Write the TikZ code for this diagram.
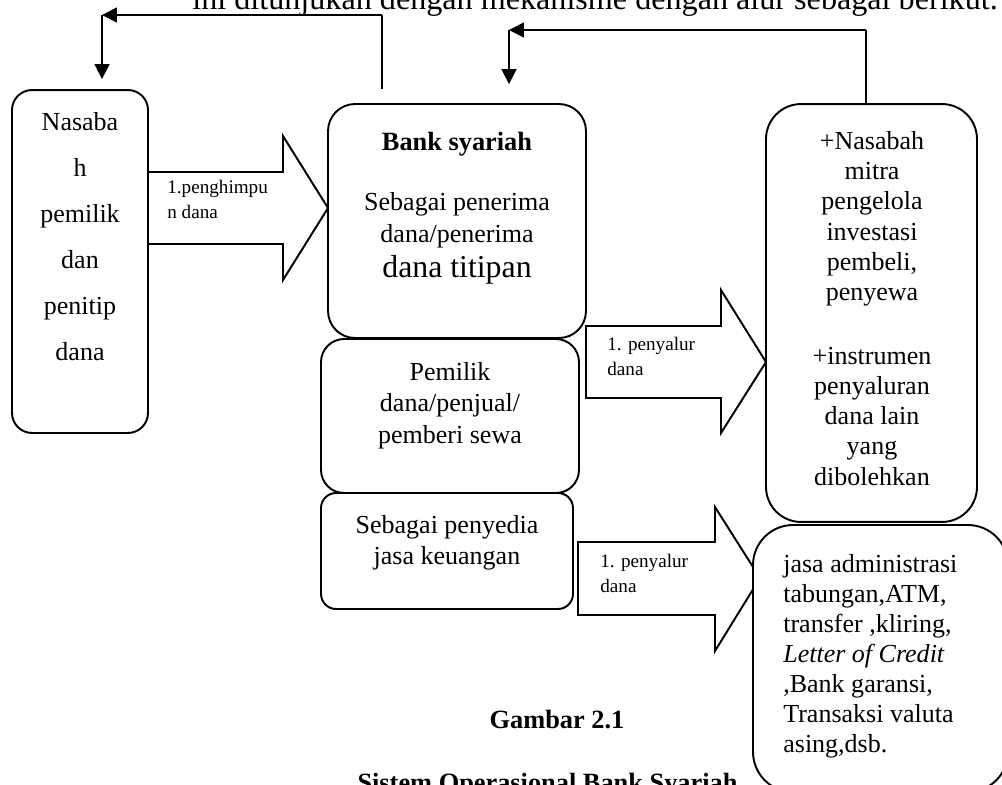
\documentclass[tikz,border=0pt]{standalone}
\usepackage{fontspec}
\setmainfont{Liberation Serif}
\usetikzlibrary{arrows.meta}

\tikzset{
  blok/.style={draw, line width=1.1pt, fill=white, inner sep=0pt, rounded corners=#1},
  blok/.default=0.4cm,
  panah/.style={draw, line width=1.1pt, fill=white},
  alur/.style={line width=1pt, -{Triangle[length=0.3cm,width=0.3cm]}},
  isi/.style={font=\fontsize{14.8}{17.2}\selectfont, align=center, inner sep=0pt, anchor=base},
  kecil/.style={font=\fontsize{10.9}{14.2}\selectfont, align=left, inner sep=0pt, anchor=base west},
  tebal/.style={font=\bfseries\fontsize{15}{18}\selectfont, inner sep=0pt, anchor=base},
}

\begin{document}
\begin{tikzpicture}[x=0.02cm, y=-0.02cm]
			\useasboundingbox (0,0) rectangle (1002,785);
			
			%%%%% kalimat atas (terpotong) %%%%%
			\node[font=\fontsize{18.3}{20}\selectfont, anchor=base west, inner sep=0pt] (kalimat) at (192,9) {ini ditunjukan dengan mekanisme dengan alur sebagai berikut.};
			
			%%%%% panah blok %%%%%
			\draw[panah] (148,172) -- (283,172) -- (283,136) -- (328,208) -- (283,280) -- (283,244) -- (148,244) -- cycle;
			\draw[panah] (586,326) -- (721,326) -- (721,290) -- (766,362) -- (721,433) -- (721,398) -- (586,398) -- cycle;
			\draw[panah] (578,542) -- (715,542) -- (715,507) -- (760,578) -- (715,651) -- (715,615) -- (578,615) -- cycle;
			
			%%%%% kotak %%%%%
			\node[blok=0.4cm, minimum width=2.72cm, minimum height=6.86cm] (nasabah) at (80,261.5) {};
			\node[blok=0.54cm, minimum width=5.16cm, minimum height=4.68cm] (bank) at (457,221) {};
			\node[blok=0.46cm, minimum width=5.16cm, minimum height=3.08cm] (pemilik) at (450,416) {};
			\node[blok=0.3cm, minimum width=5.04cm, minimum height=2.32cm] (penyedia) at (447,551) {};
			\node[blok=0.7cm, minimum width=4.22cm, minimum height=8.36cm] (mitra) at (871.5,313) {};
			\node[blok=0.8cm, minimum width=5.1cm, minimum height=5.34cm] (jasa) at (880.5,658.5) {};
			
			%%%%% teks dalam kotak (base = baris terakhir) %%%%%
			\node[isi, font=\fontsize{14.8}{26.1}\selectfont] (teksNasabah) at (80,360) {Nasaba\\h\\pemilik\\dan\\penitip\\dana};
			\node[tebal] (judulBank) at (457,150) {Bank syariah};
			\node[isi, font=\fontsize{14.8}{18}\selectfont] (teksBank) at (457,242) {Sebagai penerima\\dana/penerima};
			\node[isi, font=\fontsize{18.1}{20}\selectfont] (titipan) at (457,277) {dana titipan};
			\node[isi, font=\fontsize{14.8}{17.9}\selectfont] (teksPemilik) at (450,443) {Pemilik\\dana/penjual/\\pemberi sewa};
			\node[isi, font=\fontsize{14.8}{17.6}\selectfont] (teksPenyedia) at (447,564) {Sebagai penyedia\\jasa keuangan};
			\node[isi] (teksMitra) at (872,485) {+Nasabah\\mitra\\pengelola\\investasi\\pembeli,\\penyewa\\[19pt]+instrumen\\penyaluran\\dana lain\\yang\\dibolehkan};
			\node[isi, font=\fontsize{14.8}{17}\selectfont, align=left, anchor=base west] (teksJasa) at (783,752) {jasa administrasi\\tabungan,ATM,\\transfer ,kliring,\\\textit{Letter of Credit}\\,Bank garansi,\\Transaksi valuta\\asing,dsb.};
			
			%%%%% label panah %%%%%
			\node[kecil] (lblHimpun) at (167,218) {1.penghimpu\\n dana};
			\node[kecil] (lblSalur) at (607,375) {1. penyalur\\dana};
			\node[kecil] (lblJasa) at (600,592) {1. penyalur\\dana};
			
			%%%%% alur balik %%%%%
			\coordinate (belok1) at (382,15);
			\coordinate (belok2) at (102,15);
			\draw[line width=1pt, shorten <=0.28cm] (belok1 |- bank.north) -- (belok1);
			\draw[alur] (belok1) -- (belok2);
			\draw[alur, shorten >=0.2cm] (belok2) -- (belok2 |- nasabah.north);
			
			\coordinate (belok3) at (866,30);
			\coordinate (belok4) at (509,30);
			\draw[line width=1pt] (belok3 |- mitra.north) -- (belok3);
			\draw[alur] (belok3) -- (belok4);
			\draw[alur, shorten >=0.38cm] (belok4) -- (belok4 |- bank.north);
			
			%%%%% keterangan %%%%%
			\node[tebal] (gambar) at (557,728) {Gambar 2.1};
			\node[tebal] (sistem) at (547.5,791) {Sistem Operasional Bank Syariah};
			
		\end{tikzpicture}
\end{document}
